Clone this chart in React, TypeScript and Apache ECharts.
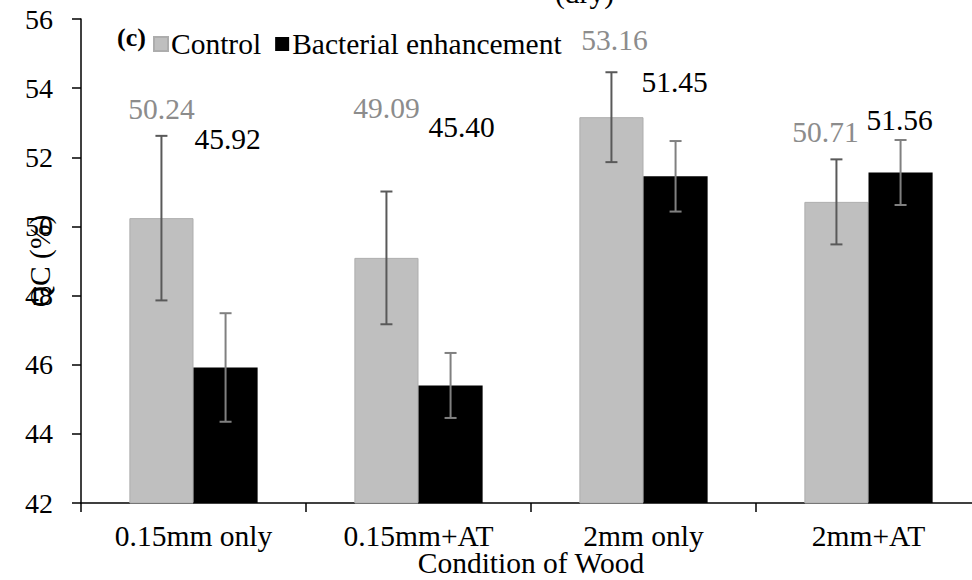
import React, { useEffect, useRef } from "react";
import * as echarts from "echarts";

// Quantity of cells (QC) by wood condition
const categories = ["0.15mm only", "0.15mm+AT", "2mm only", "2mm+AT"];
const controlValues = [50.24, 49.09, 53.16, 50.71];
const bacterialValues = [45.92, 45.4, 51.45, 51.56];
const controlErrors = [2.38, 1.92, 1.3, 1.23];
const bacterialErrors = [1.57, 0.94, 1.02, 0.94];
const yTicks = [42, 44, 46, 48, 50, 52, 54, 56];

// hand-placed value labels, offsets in px from the bar's top
const controlLabelNudge = [[0, -94], [0, -135], [3, -62], [-11, -55]];
const bacterialLabelNudge = [[2, -213], [11, -243], [-1, -79], [-1, -37]];

const FONT = "Liberation Serif";
const FS = 29.5;
const CAT_GAP = 0.43;

function errorSeries(name: string, values: number[], errors: number[], side: number, color: string) {
  return {
    type: "custom",
    name,
    silent: true,
    z: 10,
    data: values.map((v, i) => [i, v, errors[i]]),
    renderItem: (_params: any, api: any) => {
      const idx = api.value(0);
      const val = api.value(1);
      const err = api.value(2);
      const band = api.size([1, 0])[0];
      const dx = side * band * (1 - CAT_GAP) / 4;
      const hi = api.coord([idx, val + err]);
      const lo = api.coord([idx, val - err]);
      const x = hi[0] + dx;
      const cap = 6;
      const style = { stroke: color, lineWidth: 2 };
      return {
        type: "group",
        children: [
          { type: "line", shape: { x1: x, y1: hi[1], x2: x, y2: lo[1] }, style },
          { type: "line", shape: { x1: x - cap, y1: hi[1], x2: x + cap, y2: hi[1] }, style },
          { type: "line", shape: { x1: x - cap, y1: lo[1], x2: x + cap, y2: lo[1] }, style },
        ],
      };
    },
  };
}

export default function App() {
  const ref = useRef<HTMLDivElement>(null);

  useEffect(() => {
    if (!ref.current) return;
    const chart = echarts.init(ref.current, undefined, { renderer: "svg" });
    chart.setOption({
      animation: false,
      textStyle: { fontFamily: FONT },
      title: {
        text: "(dry)",
        left: 555,
        top: -22,
        padding: 0,
        textStyle: { fontFamily: FONT, fontSize: FS, fontWeight: "normal", color: "#000" },
      },
      graphic: [
        {
          type: "text",
          left: 117,
          top: 24,
          style: { text: "(c)", fontFamily: FONT, fontSize: 26, fontWeight: "bold", fill: "#000" },
        },
      ],
      legend: {
        left: 153,
        top: 29,
        padding: 0,
        itemGap: 14,
        itemWidth: 14,
        itemHeight: 14,
        icon: "rect",
        data: ["Control", "Bacterial enhancement"],
        textStyle: { fontFamily: FONT, fontSize: FS, color: "#000", padding: [0, 0, 0, -2] },
      },
      grid: { left: 81, right: -9, top: 19, bottom: 77, containLabel: false, outerBoundsMode: "none" },
      xAxis: {
        type: "category",
        data: categories,
        name: "Condition of Wood",
        nameLocation: "middle",
        nameGap: 45,
        nameMoveOverlap: false,
        nameTextStyle: { fontFamily: FONT, fontSize: FS, color: "#000" },
        axisLine: { lineStyle: { color: "#000", width: 1.5 } },
        axisTick: { show: true, length: 9, lineStyle: { color: "#000", width: 1.5 } },
        axisLabel: { fontFamily: FONT, fontSize: FS, color: "#000", margin: 18 },
      },
      yAxis: {
        type: "value",
        min: yTicks[0],
        max: yTicks[yTicks.length - 1],
        interval: 2,
        name: "QC (%)",
        nameLocation: "middle",
        nameGap: 26,
        nameMoveOverlap: false,
        nameTextStyle: { fontFamily: FONT, fontSize: FS, color: "#000" },
        axisLine: { show: true, lineStyle: { color: "#000", width: 1.5 } },
        axisTick: { show: true, length: 9, lineStyle: { color: "#000", width: 1.5 } },
        axisLabel: { fontFamily: FONT, fontSize: 28, color: "#000", margin: 28 },
        splitLine: { show: false },
      },
      series: [
        {
          type: "bar",
          name: "Control",
          barGap: "0%",
          barCategoryGap: `${CAT_GAP * 100}%`,
          itemStyle: { color: "#bfbfbf", borderColor: "#adadad", borderWidth: 1 },
          data: controlValues.map((v, i) => ({
            value: v,
            label: { offset: controlLabelNudge[i] },
          })),
          label: {
            show: true,
            position: "top",
            distance: 0,
            fontFamily: FONT,
            fontSize: FS,
            color: "#8c8c8c",
            formatter: (p: any) => Number(p.value).toFixed(2),
          },
        },
        {
          type: "bar",
          name: "Bacterial enhancement",
          barGap: "0%",
          barCategoryGap: `${CAT_GAP * 100}%`,
          itemStyle: { color: "#000000" },
          data: bacterialValues.map((v, i) => ({
            value: v,
            label: { offset: bacterialLabelNudge[i] },
          })),
          label: {
            show: true,
            position: "top",
            distance: 0,
            fontFamily: FONT,
            fontSize: FS,
            color: "#000",
            formatter: (p: any) => Number(p.value).toFixed(2),
          },
        },
        errorSeries("Control error", controlValues, controlErrors, -1, "#595959"),
        errorSeries("Bacterial error", bacterialValues, bacterialErrors, 1, "#808080"),
      ],
    });
    return () => chart.dispose();
  }, []);

  return <div ref={ref} style={{ width: 972, height: 580, position: "absolute", left: 0, top: 0, background: "#fff" }} />;
}
